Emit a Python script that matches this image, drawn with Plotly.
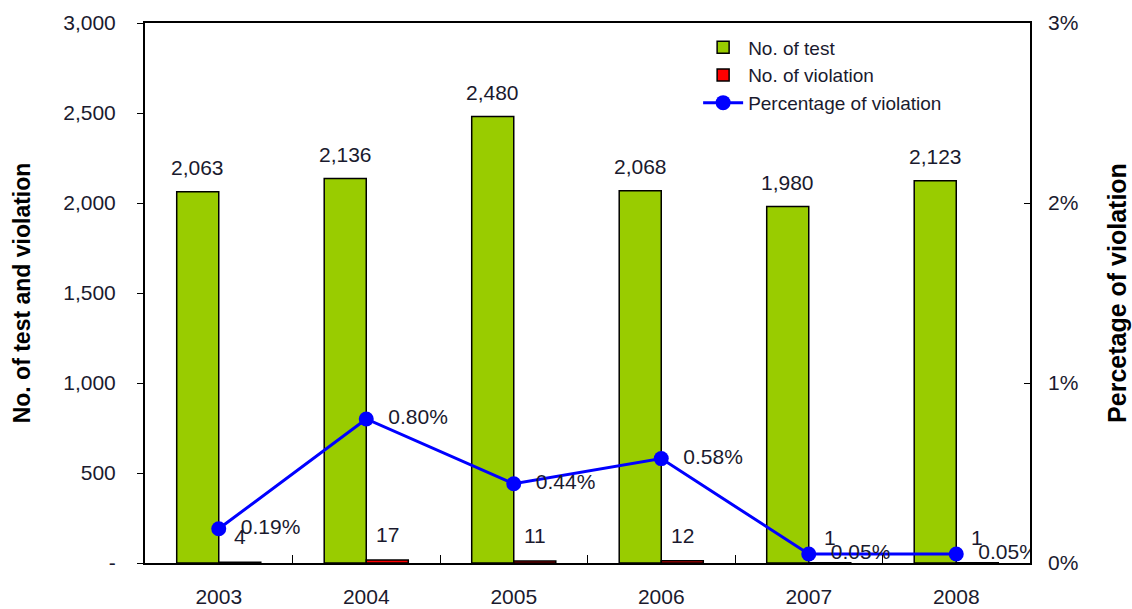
import plotly.graph_objects as go

years = ["2003", "2004", "2005", "2006", "2007", "2008"]
tests = [2063, 2136, 2480, 2068, 1980, 2123]
violations = [4, 17, 11, 12, 1, 1]
pct = [0.19, 0.80, 0.44, 0.58, 0.05, 0.05]
pct_labels = ["0.19%", "0.80%", "0.44%", "0.58%", "0.05%", "0.05%"]
left_ticks = [0, 500, 1000, 1500, 2000, 2500, 3000]
left_ticktext = ["-", "500", "1,000", "1,500", "2,000", "2,500", "3,000"]
right_ticks = [0, 1, 2, 3]
right_ticktext = ["0%", "1%", "2%", "3%"]

FONT = "Liberation Sans, Arial, sans-serif"
TXT = "#1a1a2e"
FS = 21

fig = go.Figure()
fig.add_trace(go.Bar(x=years, y=tests, name="No. of test",
                     marker=dict(color="#99CC00", line=dict(color="black", width=1.5))))
fig.add_trace(go.Bar(x=years, y=violations, name="No. of violation",
                     marker=dict(color="#FF0000", line=dict(color="black", width=1.5))))
fig.add_trace(go.Scatter(x=years, y=pct, name="Percentage of violation", yaxis="y2",
                         mode="lines+markers+text", text=pct_labels,
                         texttemplate="  %{text}",
                         textposition="middle right",
                         textfont=dict(size=FS, color=TXT, family=FONT),
                         line=dict(color="#0000FF", width=3),
                         marker=dict(color="#0000FF", size=15)))

annotations = []
for i, (t, v) in enumerate(zip(tests, violations)):
    annotations.append(dict(x=i, y=t, xshift=-21, yshift=11, yanchor="bottom",
                            text=f"{t:,}", showarrow=False,
                            font=dict(size=FS, color=TXT, family=FONT)))
    annotations.append(dict(x=i, y=v, xshift=21, yshift=12, yanchor="bottom",
                            text=f"{v:,}", showarrow=False,
                            font=dict(size=FS, color=TXT, family=FONT)))

fig.update_layout(
    width=1132, height=609,
    margin=dict(l=145, r=102, t=23, b=46),
    paper_bgcolor="white", plot_bgcolor="white",
    font=dict(family=FONT, size=FS, color=TXT),
    barmode="group", bargap=0.43, bargroupgap=0,
    annotations=annotations,
    showlegend=True,
    legend=dict(x=0.625, y=0.99, xanchor="left", yanchor="top",
                bgcolor="rgba(0,0,0,0)", font=dict(size=19, color=TXT, family=FONT),
                tracegroupgap=0, itemwidth=40),
    xaxis=dict(type="category", range=[-0.5, 5.5], showline=True, linecolor="black",
               linewidth=2, mirror=True, automargin=False,
               ticks="inside", tickson="boundaries", ticklen=8, tickcolor="black",
               tickfont=dict(size=FS, color=TXT), showgrid=False, tickangle=0,
               ticklabelstandoff=14),
    yaxis=dict(range=[0, 3000], tickvals=left_ticks, ticktext=left_ticktext,
               showline=True, linecolor="black", linewidth=2, mirror=True,
               ticks="outside", ticklen=6, tickcolor="black", showgrid=False,
               zeroline=False, tickfont=dict(size=FS, color=TXT), automargin=False,
               ticklabelstandoff=17,
               title=dict(text="<b>No. of test and violation</b>", standoff=26,
                          font=dict(size=23, color="black"))),
    yaxis2=dict(range=[0, 3], tickvals=right_ticks, ticktext=right_ticktext,
                overlaying="y", side="right", showgrid=False, zeroline=False,
                ticks="inside", ticklen=6, tickcolor="black", showline=False,
                tickfont=dict(size=FS, color=TXT), automargin=False,
                ticklabelstandoff=17,
                title=dict(text="<b>Percetage of violation</b>", standoff=31,
                           font=dict(size=25, color="black"))),
)

fig.write_html("out.html")
